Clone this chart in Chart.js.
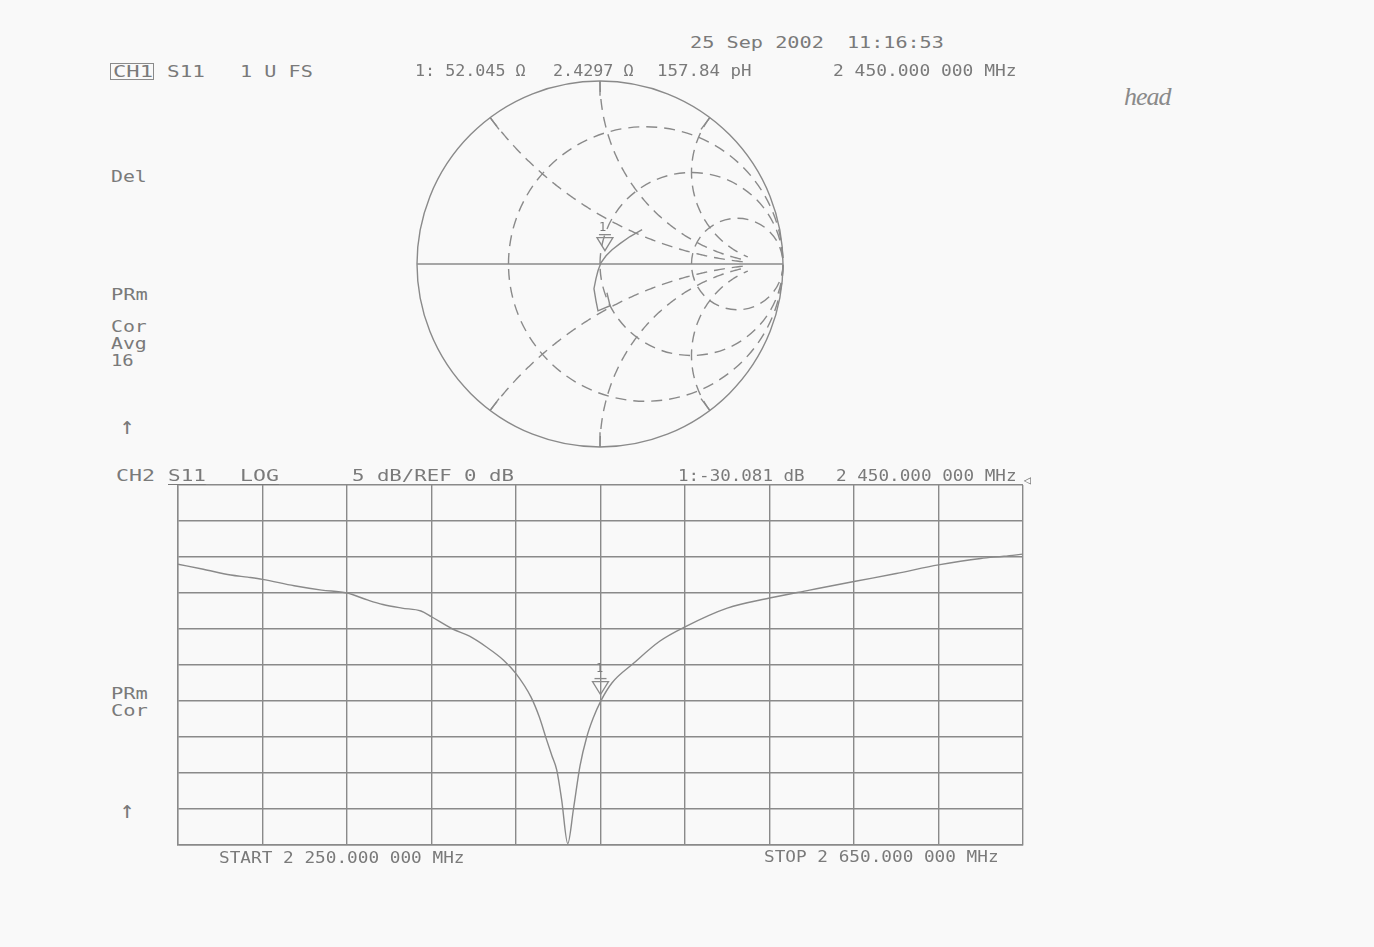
<!DOCTYPE html>
<html><head><meta charset="utf-8">
<script src="https://cdn.jsdelivr.net/npm/chart.js@4.4.1/dist/chart.umd.min.js"></script>
<style>
html,body{margin:0;padding:0;background:#f9f9f9;}
#page{position:relative;width:1374px;height:947px;overflow:hidden;background:#f9f9f9;}
.t{position:absolute;font-family:"DejaVu Sans Mono","Liberation Mono",monospace;font-size:16px;color:#7a7a7a;white-space:pre;line-height:16px;transform-origin:0 50%;}
.u{text-decoration:underline;text-underline-offset:3px;}
#box1{position:absolute;left:110px;top:63px;width:44px;height:17px;border:1.3px solid #8a8a8a;box-sizing:border-box;}
#smithBox{position:absolute;left:412px;top:75.5px;width:376px;height:376px;}
#logBox{position:absolute;left:173px;top:480px;width:855px;height:370px;}
#hand{position:absolute;left:1124px;top:82px;font-family:"Liberation Serif","DejaVu Serif",serif;font-style:italic;font-size:26px;color:#8a8a8a;letter-spacing:-1px;}
</style></head><body><div id="page">
<div id="smithBox"><canvas id="smith"></canvas></div>
<div id="logBox"><canvas id="logmag"></canvas></div>
<div id="box1"></div>
<div id="hand">head</div>
</div>
<script>
// ---- data ----
const frequencyMHz = [2250, 2262, 2275, 2283, 2290, 2305, 2318, 2330, 2340, 2347, 2356, 2365, 2370, 2380, 2388, 2396, 2404, 2410, 2417, 2421, 2424.5, 2427, 2429.3, 2431.6, 2434.5, 2437.2, 2440.3, 2443.5, 2446.5, 2450, 2455.4, 2465.5, 2478, 2490, 2510, 2530, 2549, 2570, 2590, 2610, 2630, 2641, 2650];
const s11dB = [-11.0, -11.7, -12.5, -12.8, -13.1, -14.0, -14.6, -15.0, -16.0, -16.6, -17.1, -17.5, -18.3, -20.0, -21.0, -22.5, -24.3, -26.2, -29.4, -32.2, -35.4, -37.6, -39.6, -43.7, -49.8, -45.0, -39.0, -35.0, -32.4, -30.08, -27.5, -24.8, -21.7, -19.7, -17.1, -15.7, -14.6, -13.4, -12.3, -11.1, -10.2, -9.9, -9.6];
const smithGammaRe = [0.038, 0.055, -0.011, -0.022, -0.033, -0.022, -0.011, 0.005, 0.033, 0.066, 0.109, 0.164, 0.230];
const smithGammaIm = [-0.157, -0.228, -0.256, -0.201, -0.135, -0.080, -0.037, 0.007, 0.045, 0.078, 0.111, 0.150, 0.188];
const resistanceCircles = [1/3, 1, 3];
const reactanceArcs = [0.5, 1, 2];
const markerFreqMHz = 2450;
const markerDB = -30.081;
const markerGammaRe = 0.027;
const markerGammaIm = 0.073;
const freqStart = 2250, freqStop = 2650, freqStep = 40;
const dbTop = 0, dbBottom = -50, dbStep = 5;

const LINE = '#8a8a8a';

// ---- text ----
const texts = [
  ['25 Sep 2002', 690, 822, 43],
  ['11:16:53', 847, 942, 43],
  ['CH1', 113, 151, 72],
  ['S11', 167, 203, 72],
  ['1 U FS', 240, 311, 72],
  ['1: 52.045 Ω', 415, 524, 71],
  ['2.4297 Ω', 553, 632, 71],
  ['157.84 pH', 657, 750, 71],
  ['2 450.000 000 MHz', 833, 1015, 71],
  ['Del', 111, 145, 177],
  ['PRm', 111, 146, 295],
  ['Cor', 111, 145, 327],
  ['Avg', 111, 145, 344],
  ['16', 111, 132, 361],
  ['CH2', 116, 153, 476],
  ['S11', 168, 204, 476, 'u'],
  ['LOG', 240, 277, 476, 'u'],
  ['5 dB/REF 0 dB', 352, 512, 476],
  ['1:-30.081 dB', 678, 803, 476],
  ['2 450.000 000 MHz', 836, 1015, 476],
  ['PRm', 111, 146, 694],
  ['Cor', 111, 146, 711],
  ['START 2 250.000 000 MHz', 219, 463, 858],
  ['STOP 2 650.000 000 MHz', 764, 997, 857]
];
const page = document.getElementById('page');
texts.forEach(([s, l, r, cy, cls]) => {
  const d = document.createElement('div');
  d.className = 't' + (cls ? ' ' + cls : '');
  d.textContent = s;
  d.style.left = l + 'px';
  d.style.top = (cy - 8) + 'px';
  page.appendChild(d);
  const w = d.getBoundingClientRect().width;
  const n = [...s].length;
  const natural = w * (n - 0.15) / n;
  d.style.transform = 'scaleX(' + ((r - l) / natural).toFixed(3) + ')';
});
// arrows, marker labels and reference pointer
[['↑', 120, 414, 24], ['↑', 120, 798, 24], ['1', 599, 221, 12], ['1', 596, 662, 12], ['◁', 1024, 474, 12]].forEach(([s, l, t, fs]) => {
  const d = document.createElement('div');
  d.className = 't'; d.textContent = s;
  d.style.left = l + 'px'; d.style.top = t + 'px'; d.style.fontSize = fs + 'px'; d.style.lineHeight = fs + 'px';
  page.appendChild(d);
});

function drawMarker(ctx, px, py, tipOffset) {
  const tip = py - tipOffset;
  ctx.save();
  ctx.strokeStyle = LINE; ctx.lineWidth = 1.3; ctx.setLineDash([]);
  ctx.beginPath();
  ctx.moveTo(px - 8, tip - 13); ctx.lineTo(px + 8, tip - 13); ctx.lineTo(px, tip); ctx.closePath();
  ctx.stroke();
  ctx.beginPath(); ctx.moveTo(px - 6, tip - 16); ctx.lineTo(px + 6, tip - 16); ctx.stroke();
  ctx.restore();
}

// ---- Smith chart ----
const smithGrid = {
  id: 'smithGrid',
  beforeDatasetsDraw(chart) {
    const { ctx, scales: { x, y } } = chart;
    const P = (re, im) => [x.getPixelForValue(re), y.getPixelForValue(im)];
    const [cx, cy] = P(0, 0);
    const R = x.getPixelForValue(1) - cx;
    ctx.save();
    ctx.strokeStyle = LINE; ctx.lineWidth = 1.4;
    ctx.beginPath(); ctx.arc(cx, cy, R, 0, 2 * Math.PI); ctx.stroke();
    let a = P(-1, 0), b = P(1, 0);
    ctx.beginPath(); ctx.moveTo(a[0], a[1]); ctx.lineTo(b[0], b[1]); ctx.stroke();
    const gam = (r, X) => {
      const den = (r + 1) * (r + 1) + X * X;
      return [(r * r - 1 + X * X) / den, 2 * X / den];
    };
    reactanceArcs.forEach(X => [1, -1].forEach(s => {
      const [gr, gi] = gam(0, s * X);
      const p0 = P(gr, gi), p1 = P(gr * 0.92, gi * 0.92);
      ctx.beginPath(); ctx.moveTo(p0[0], p0[1]); ctx.lineTo(p1[0], p1[1]); ctx.stroke();
    }));
    ctx.setLineDash([11, 7]);
    resistanceCircles.forEach(r => {
      const [ccx] = P(r / (r + 1), 0);
      const rr = x.getPixelForValue(1 / (r + 1)) - cx;
      ctx.beginPath(); ctx.arc(ccx, cy, rr, Math.PI, 3 * Math.PI); ctx.stroke();
    });
    reactanceArcs.forEach(X => [1, -1].forEach(s => {
      ctx.beginPath();
      for (let k = 0; k <= 200; k++) {
        const t = k / 200 * 0.9;
        const r = t / (1 - t);
        const [gr, gi] = gam(r, s * X);
        const p = P(gr, gi);
        if (k === 0) ctx.moveTo(p[0], p[1]); else ctx.lineTo(p[0], p[1]);
      }
      ctx.stroke();
    }));
    ctx.restore();
  },
  afterDatasetsDraw(chart) {
    const { ctx, scales: { x, y } } = chart;
    drawMarker(ctx, x.getPixelForValue(markerGammaRe), y.getPixelForValue(markerGammaIm), 0);
  }
};

new Chart(document.getElementById('smith'), {
  type: 'scatter',
  data: { datasets: [{
    data: smithGammaRe.map((re, i) => ({ x: re, y: smithGammaIm[i] })),
    showLine: true, borderColor: LINE, borderWidth: 1.4, pointRadius: 0, tension: 0, fill: false
  }] },
  options: {
    responsive: true, maintainAspectRatio: false, animation: false,
    layout: { padding: 5 },
    plugins: { legend: { display: false }, tooltip: { enabled: false } },
    scales: {
      x: { type: 'linear', min: -1, max: 1, display: false },
      y: { type: 'linear', min: -1, max: 1, display: false }
    }
  },
  plugins: [smithGrid]
});

// ---- Log magnitude chart ----
const logMarker = {
  id: 'logMarker',
  afterDatasetsDraw(chart) {
    const { ctx, scales: { x, y } } = chart;
    drawMarker(ctx, x.getPixelForValue(markerFreqMHz), y.getPixelForValue(markerDB), 7);
  }
};
new Chart(document.getElementById('logmag'), {
  type: 'line',
  data: { datasets: [{
    data: frequencyMHz.map((f, i) => ({ x: f, y: s11dB[i] })),
    borderColor: LINE, borderWidth: 1.4, pointRadius: 0, cubicInterpolationMode: 'monotone', fill: false
  }] },
  options: {
    responsive: true, maintainAspectRatio: false, animation: false,
    layout: { padding: 5 },
    plugins: { legend: { display: false }, tooltip: { enabled: false } },
    scales: {
      x: { type: 'linear', min: freqStart, max: freqStop,
           ticks: { display: false, stepSize: freqStep },
           grid: { color: LINE, lineWidth: 1.4, drawTicks: false },
           border: { display: true, color: LINE, width: 1.4 } },
      y: { type: 'linear', min: dbBottom, max: dbTop,
           ticks: { display: false, stepSize: dbStep },
           grid: { color: LINE, lineWidth: 1.4, drawTicks: false },
           border: { display: true, color: LINE, width: 1.4 } }
    }
  },
  plugins: [logMarker]
});
</script>
</body></html>
